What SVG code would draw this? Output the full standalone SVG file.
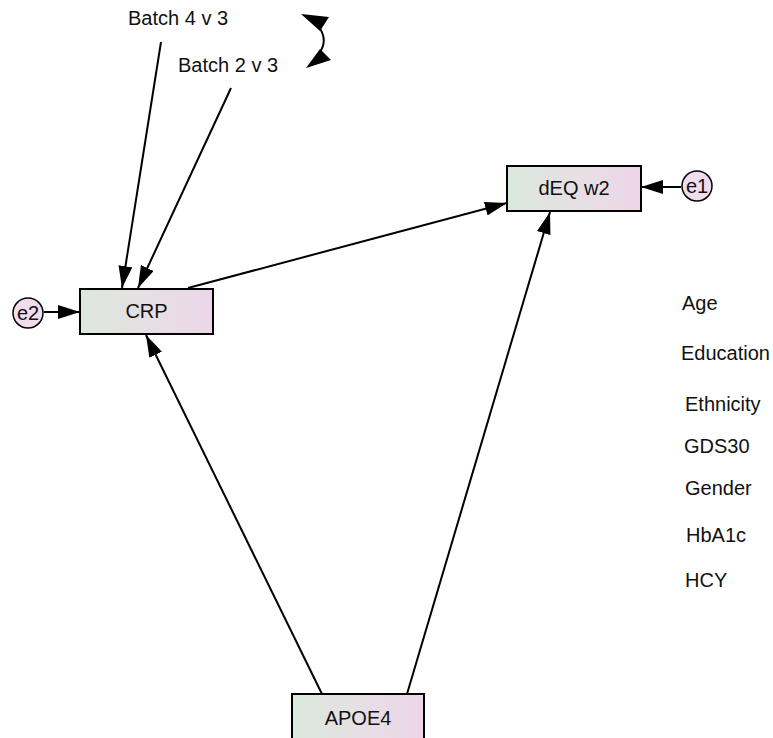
<svg xmlns="http://www.w3.org/2000/svg" width="773" height="738" viewBox="0 0 773 738">
<defs>
<linearGradient id="boxfill" x1="0" y1="0" x2="1" y2="0">
<stop offset="0" stop-color="#dbe8dc"/>
<stop offset="0.5" stop-color="#e6e0e4"/>
<stop offset="1" stop-color="#ecd6e8"/>
</linearGradient>
<marker id="arr" markerUnits="userSpaceOnUse" markerWidth="24" markerHeight="14" refX="22" refY="7" orient="auto">
<path d="M0,0 L22,7 L0,14 Z" fill="#000"/>
</marker>
</defs>
<style>
.box{fill:url(#boxfill);stroke:#000;stroke-width:2}
.err{fill:#f0dcec;stroke:#000;stroke-width:1.5}
.lbl{font-family:"Liberation Sans",Arial,sans-serif;font-size:20px;fill:#111}
.c{text-anchor:middle}
.edge{stroke:#000;stroke-width:2;fill:none;marker-end:url(#arr)}
</style>
<rect width="773" height="738" fill="#fff"/>
<g id="connectors">
<line class="edge" x1="161" y1="42" x2="122" y2="288"/>
<line class="edge" x1="231" y1="88" x2="138" y2="288"/>
<line class="edge" x1="188" y1="288" x2="507" y2="203"/>
<line class="edge" x1="322" y1="694" x2="146" y2="335"/>
<line class="edge" x1="407" y1="694" x2="550" y2="212"/>
<line class="edge" x1="44" y1="312" x2="80" y2="312"/>
<line class="edge" x1="681" y1="187" x2="641" y2="187"/>
<g id="covariance">
<path d="M319,27 Q328,40 320,52" stroke="#000" stroke-width="2" fill="none"/>
<polygon points="301,14 329,17 320,31" fill="#000"/>
<polygon points="306,68 320,49 331,60" fill="#000"/>
</g>
</g>
<g id="batch43"><text class="lbl" x="128" y="25">Batch 4 v 3</text></g>
<g id="batch23"><text class="lbl" x="178" y="72">Batch 2 v 3</text></g>
<g id="crp"><rect class="box" x="80" y="289" width="133" height="45"/><text class="lbl c" x="146.5" y="318">CRP</text></g>
<g id="deq"><rect class="box" x="507" y="166" width="134" height="45"/><text class="lbl c" x="574" y="195">dEQ w2</text></g>
<g id="apoe4"><rect class="box" x="292" y="694" width="132" height="50"/><text class="lbl c" x="358" y="725">APOE4</text></g>
<g id="e1"><circle class="err" cx="697" cy="186" r="15"/><text class="lbl c" x="697" y="193">e1</text></g>
<g id="e2"><circle class="err" cx="28" cy="313" r="15"/><text class="lbl c" x="28" y="320">e2</text></g>
<g id="age"><text class="lbl" x="682" y="310">Age</text></g>
<g id="education"><text class="lbl" x="681" y="360">Education</text></g>
<g id="ethnicity"><text class="lbl" x="685" y="411">Ethnicity</text></g>
<g id="gds30"><text class="lbl" x="684" y="453">GDS30</text></g>
<g id="gender"><text class="lbl" x="685" y="495">Gender</text></g>
<g id="hba1c"><text class="lbl" x="686" y="542">HbA1c</text></g>
<g id="hcy"><text class="lbl" x="685" y="587">HCY</text></g>
</svg>
